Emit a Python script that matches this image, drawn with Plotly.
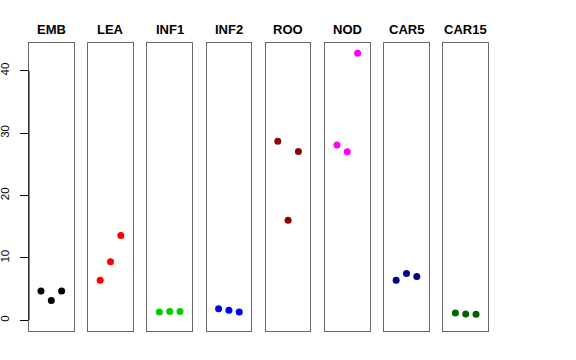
import plotly.graph_objects as go

categories = ["EMB", "LEA", "INF1", "INF2", "ROO", "NOD", "CAR5", "CAR15"]
values = [
    [4.7, 3.15, 4.7],
    [6.4, 9.4, 13.6],
    [1.33, 1.39, 1.39],
    [1.86, 1.6, 1.33],
    [28.7, 16.05, 27.05],
    [28.1, 27.0, 42.8],
    [6.4, 7.48, 7.0],
    [1.17, 1.01, 0.96],
]
colors = ["#000000", "#FF0000", "#00CD00", "#0000FF", "#8B0000", "#FF00FF", "#00008B", "#006400"]
replicate = [1, 2, 3]
y_ticks = [0, 10, 20, 30, 40]

W, H = 576, 360
L, R, T, B = 29, 488, 43.3, 331
plot_w = R - L
pw, gap = 44.6, 14.6

fig = go.Figure()
layout = dict(
    width=W, height=H,
    margin=dict(l=L, r=W - R, t=T, b=H - B, pad=0, autoexpand=False),
    paper_bgcolor="white", plot_bgcolor="white",
    showlegend=False,
    font=dict(family="Liberation Sans, Arial, sans-serif", color="black"),
)
annotations = []
shapes = []
for i, (cat, vals, col) in enumerate(zip(categories, values, colors)):
    n = "" if i == 0 else str(i + 1)
    x0 = i * (pw + gap) / plot_w
    x1 = (i * (pw + gap) + pw) / plot_w
    fig.add_trace(go.Scatter(
        x=replicate, y=vals, mode="markers",
        marker=dict(color=col, size=7, line=dict(width=0)),
        xaxis="x" + n, yaxis="y" + n, hoverinfo="skip",
    ))
    layout["xaxis" + n] = dict(
        domain=[x0, min(x1, 1)], range=[-0.16, 4.16], anchor="y" + n,
        showline=True, mirror=True, linecolor="#666666", linewidth=1,
        showgrid=False, zeroline=False, showticklabels=False, ticks="",
        fixedrange=True, automargin=False,
    )
    ya = dict(
        range=[-1.72, 44.45], anchor="x" + n, domain=[0, 1],
        showline=True, mirror=True, linecolor="#666666", linewidth=1,
        showgrid=False, zeroline=False, fixedrange=True, automargin=False,
    )
    if i == 0:
        ya.update(
            tickmode="array", tickvals=y_ticks, ticktext=[str(t) for t in y_ticks],
            ticks="outside", ticklen=8, tickcolor="black", tickwidth=1,
            tickangle=-90, tickfont=dict(size=11.5, color="black"),
            ticklabelstandoff=6,
        )
    else:
        ya.update(showticklabels=False, ticks="")
    layout["yaxis" + n] = ya
    annotations.append(dict(
        text="<b>%s</b>" % cat, x=(x0 + x1) / 2, y=1, xref="paper", yref="paper",
        xanchor="center", yanchor="middle", yshift=14, showarrow=False,
        font=dict(size=13, color="black"),
    ))

shapes.append(dict(type="line", xref="x domain", yref="y", x0=0, x1=0,
                   y0=y_ticks[0], y1=y_ticks[-1], line=dict(color="black", width=1)))
layout["annotations"] = annotations
layout["shapes"] = shapes
fig.update_layout(**layout)
fig.write_html(
    "out.html",
    config={"displayModeBar": False, "staticPlot": True},
    post_script="document.body.style.margin='0px';document.body.style.padding='0px';",
)
